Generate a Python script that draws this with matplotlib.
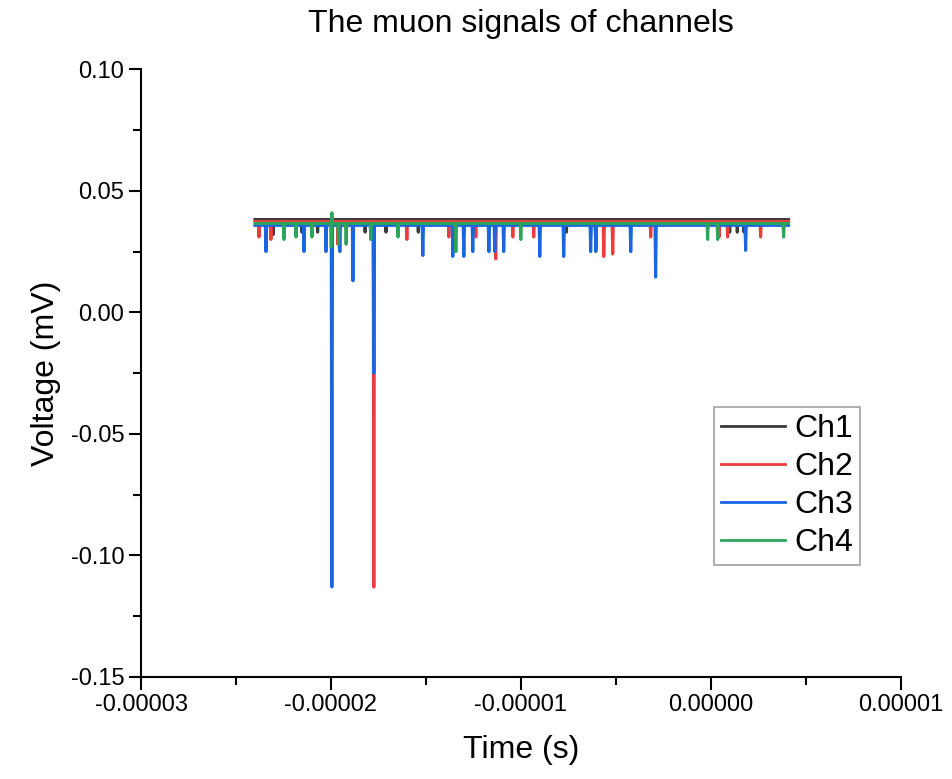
import numpy as np
import matplotlib
matplotlib.use("Agg")
import matplotlib.pyplot as plt
from matplotlib.ticker import FormatStrFormatter, MultipleLocator

plt.rcParams['font.family'] = ['Liberation Sans', 'DejaVu Sans']

# ---- data (times in microseconds, voltages in mV) ----
t_start_us = -24.0
t_end_us = 4.1

channels = ["Ch1", "Ch2", "Ch3", "Ch4"]
colors = ["#3a3a3a", "#ee3b3b", "#1a66e0", "#2aa55a"]
baselines = [0.0382, 0.0374, 0.0358, 0.0366]

ch1_spike_t = [-23.05, -21.53, -20.7, -18.2, -17.1, -15.4, -7.6, -6.05, 1.0, 1.4, 1.75]
ch1_spike_v = [0.032, 0.033, 0.033, 0.033, 0.033, 0.033, 0.033, 0.026, 0.033, 0.033, 0.033]

ch2_spike_t = [-23.79, -23.16, -19.63, -17.74, -16.0, -13.79, -12.37, -11.32, -10.42,
               -9.32, -5.63, -5.16, -3.16, 0.89, 0.45, 2.63]
ch2_spike_v = [0.031, 0.030, 0.028, -0.113, 0.030, 0.031, 0.031, 0.022, 0.031,
               0.031, 0.023, 0.024, 0.031, 0.031, 0.031, 0.031]

ch3_spike_t = [-23.42, -21.42, -20.26, -19.95, -19.53, -18.84, -17.74, -15.16, -13.58,
               -13.0, -12.53, -11.68, -11.37, -10.9, -9.0, -7.74, -6.32, -6.05,
               -4.21, -2.9, 1.84]
ch3_spike_v = [0.025, 0.025, 0.025, -0.113, 0.025, 0.013, -0.025, 0.0234, 0.023,
               0.023, 0.025, 0.025, 0.025, 0.025, 0.023, 0.023, 0.025, 0.025,
               0.025, 0.0145, 0.0255]

ch4_spike_t = [-22.47, -21.84, -21.0, -19.98, -19.95, -19.6, -19.2, -17.9, -16.47,
               -13.42, -10.0, -0.16, 0.37, 3.84]
ch4_spike_v = [0.030, 0.031, 0.031, 0.027, 0.041, 0.028, 0.028, 0.030, 0.031,
               0.025, 0.030, 0.030, 0.030, 0.031]

spike_t = [ch1_spike_t, ch2_spike_t, ch3_spike_t, ch4_spike_t]
spike_v = [ch1_spike_v, ch2_spike_v, ch3_spike_v, ch4_spike_v]


def build_series(base, ts, vs, half_width=0.035):
    order = np.argsort(ts)
    t = [t_start_us]
    v = [base]
    for i in order:
        t += [ts[i] - half_width, ts[i], ts[i] + half_width]
        v += [base, vs[i], base]
    t.append(t_end_us)
    v.append(base)
    return np.array(t) * 1e-6, np.array(v)


fig = plt.figure(figsize=(9.53, 7.79), dpi=100)
ax = fig.add_axes([0.148, 0.131, 0.797, 0.78])

for name, col, base, ts, vs in zip(channels, colors, baselines, spike_t, spike_v):
    x, y = build_series(base, ts, vs)
    ax.plot(x, y, color=col, lw=2.2, label=name)

ax.set_xlim(-3e-5, 1e-5)
ax.set_ylim(-0.15, 0.10)
ax.xaxis.set_major_locator(MultipleLocator(1e-5))
ax.xaxis.set_minor_locator(MultipleLocator(0.5e-5))
ax.yaxis.set_major_locator(MultipleLocator(0.05))
ax.yaxis.set_minor_locator(MultipleLocator(0.025))
ax.xaxis.set_major_formatter(FormatStrFormatter('%.5f'))
ax.yaxis.set_major_formatter(FormatStrFormatter('%.2f'))

for s in ['top', 'right']:
    ax.spines[s].set_visible(False)
for s in ['left', 'bottom']:
    ax.spines[s].set_linewidth(1.5)

ax.tick_params(which='major', direction='out', length=9, width=1.5, labelsize=17, pad=3)
ax.tick_params(which='minor', direction='out', length=6, width=1.5)

ax.set_title("The muon signals of channels", fontsize=23, pad=27)
ax.set_xlabel("Time (s)", fontsize=23, labelpad=14)
ax.set_ylabel("Voltage (mV)", fontsize=23, labelpad=7)

leg = ax.legend(loc='upper left', bbox_to_anchor=(0.754, 0.444), fontsize=23,
                frameon=True, fancybox=False, handlelength=2.0, handletextpad=0.3,
                labelspacing=0.25, borderpad=0.22, borderaxespad=0)
leg.get_frame().set_edgecolor('#888888')
leg.get_frame().set_linewidth(1.2)
for line in leg.get_lines():
    line.set_linewidth(2.0)

fig.savefig("out.png", dpi=100)
